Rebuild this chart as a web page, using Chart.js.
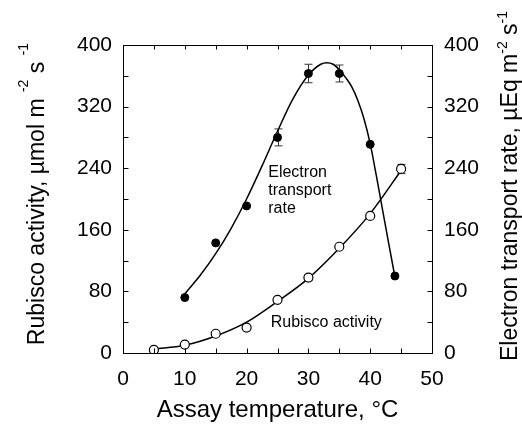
<!DOCTYPE html>
<html>
<head>
<meta charset="utf-8">
<script src="https://cdn.jsdelivr.net/npm/chart.js@4.4.0/dist/chart.umd.min.js"></script>
<style>
  html, body { margin: 0; padding: 0; background: #fff; }
</style>
</head>
<body>
<canvas id="chart" width="522" height="425"></canvas>
<script>
// measured points
const etTemp  = [10, 15, 20, 25, 30, 35, 40, 44];
const etRate  = [72, 143, 191, 280, 363, 363, 271, 100];
const etErr   = [0, 0, 0, 11, 12, 11, 0, 0];
const rubTemp = [5, 10, 15, 20, 25, 30, 35, 40, 45];
const rubAct  = [4, 11, 25, 33, 69, 98, 138, 178, 239];
const rubErr  = [0, 0, 0, 0, 0, 4, 0, 0, 6];

// fitted curves
const etFitTemp  = [10, 12.5, 15, 17.5, 20, 22.5, 25, 27.5, 30, 32, 33, 34, 35, 36, 37, 38, 39, 40, 41, 42, 43, 44];
const etFit      = [77, 101, 129, 162, 200, 243, 288, 330, 361, 375, 377, 375, 368, 358, 346, 328, 304, 272, 230, 186, 142, 99];
const rubFitTemp = [5, 10, 15, 20, 25, 30, 35, 40, 45];
const rubFit     = [5, 10, 22, 40, 67, 97, 136, 181, 237];

const xTicks = [0, 10, 20, 30, 40, 50];
const yTicks = [0, 80, 160, 240, 320, 400];

const FONT = '"Liberation Sans", Arial, Helvetica, sans-serif';
const pts = (xs, ys) => xs.map((x, i) => ({ x, y: ys[i] }));

const decor = {
  id: 'decor',
  beforeDatasetsDraw(chart) {
    const ctx = chart.ctx, x = chart.scales.x;
    ctx.save();
    ctx.strokeStyle = '#333';
    ctx.lineWidth = 1;
    const bars = (xs, ys, es, sc) => xs.forEach((t, i) => {
      if (!es[i]) return;
      const px = Math.round(x.getPixelForValue(t)) + 0.5;
      const top = sc.getPixelForValue(ys[i] + es[i]);
      const bot = sc.getPixelForValue(ys[i] - es[i]);
      ctx.beginPath();
      ctx.moveTo(px, top); ctx.lineTo(px, bot);
      ctx.moveTo(px - 4, top); ctx.lineTo(px + 4, top);
      ctx.moveTo(px - 4, bot); ctx.lineTo(px + 4, bot);
      ctx.stroke();
    });
    bars(etTemp, etRate, etErr, chart.scales.y2);
    bars(rubTemp, rubAct, rubErr, chart.scales.y);
    ctx.restore();
  },
  afterDraw(chart) {
    const ctx = chart.ctx, a = chart.chartArea;
    const x = chart.scales.x, y = chart.scales.y;
    ctx.save();
    ctx.strokeStyle = '#000';
    ctx.lineWidth = 1;
    const L = Math.round(a.left) + 0.5, R = Math.round(a.right) + 0.5;
    const T = Math.round(a.top) + 0.5, B = Math.round(a.bottom) + 0.5;
    ctx.strokeRect(L, T, R - L, B - T);
    ctx.beginPath();
    for (let t = 5; t < 50; t += 5) {
      const px = Math.round(x.getPixelForValue(t)) + 0.5;
      ctx.moveTo(px, B); ctx.lineTo(px, B - 5);
      ctx.moveTo(px, T); ctx.lineTo(px, T + 4);
    }
    for (let v = 40; v < 400; v += 40) {
      const py = Math.round(y.getPixelForValue(v)) + 0.5;
      ctx.moveTo(L, py); ctx.lineTo(L + 5, py);
      ctx.moveTo(R, py); ctx.lineTo(R - 5, py);
    }
    ctx.stroke();

    // in-plot labels
    ctx.fillStyle = '#000';
    ctx.font = '16px ' + FONT;
    ctx.textBaseline = 'alphabetic';
    const lx = x.getPixelForValue(23.5);
    ctx.fillText('Electron', lx, y.getPixelForValue(229));
    ctx.fillText('transport', lx, y.getPixelForValue(205));
    ctx.fillText('rate', lx, y.getPixelForValue(182));
    ctx.fillText('Rubisco activity', x.getPixelForValue(23.9), y.getPixelForValue(34));

    // y axis titles with superscripts
    const vTitle = (cx, cy, parts, size, raise) => {
      ctx.save();
      ctx.translate(cx, cy);
      ctx.rotate(-Math.PI / 2);
      let total = 0;
      parts.forEach(p => {
        ctx.font = (p.sup ? Math.round(size * 0.6) : size) + 'px ' + FONT;
        p.w = ctx.measureText(p.t).width;
        total += p.w;
      });
      let px = -total / 2;
      parts.forEach(p => {
        ctx.font = (p.sup ? Math.round(size * 0.6) : size) + 'px ' + FONT;
        ctx.fillText(p.t, px, p.sup ? -size * raise : 0);
        px += p.w;
      });
      ctx.restore();
    };
    vTitle(44, 194, [
      { t: 'Rubisco activity, µmol m ' }, { t: '-2', sup: true },
      { t: ' s ' }, { t: '-1', sup: true }
    ], 23, 0.7);
    vTitle(517, 186, [
      { t: 'Electron transport rate, µEq m' }, { t: '-2', sup: true },
      { t: ' s' }, { t: '-1', sup: true }
    ], 23, 0.45);
    ctx.restore();
  }
};

new Chart(document.getElementById('chart'), {
  type: 'scatter',
  data: {
    datasets: [
      {
        label: 'Electron transport rate',
        data: pts(etTemp, etRate),
        yAxisID: 'y2',
        pointRadius: 4,
        pointBackgroundColor: '#000',
        pointBorderColor: '#000',
        pointBorderWidth: 1,
        showLine: false,
        order: 0
      },
      {
        label: 'Rubisco activity',
        data: pts(rubTemp, rubAct),
        yAxisID: 'y',
        pointRadius: 4.5,
        pointBackgroundColor: '#fff',
        pointBorderColor: '#000',
        pointBorderWidth: 1.2,
        showLine: false,
        order: 0
      },
      {
        label: 'Electron transport fit',
        data: pts(etFitTemp, etFit),
        yAxisID: 'y2',
        showLine: true,
        pointRadius: 0,
        borderColor: '#000',
        borderWidth: 1.5,
        cubicInterpolationMode: 'monotone',
        order: 1
      },
      {
        label: 'Rubisco fit',
        data: pts(rubFitTemp, rubFit),
        yAxisID: 'y',
        showLine: true,
        pointRadius: 0,
        borderColor: '#000',
        borderWidth: 1.5,
        cubicInterpolationMode: 'monotone',
        order: 1
      }
    ]
  },
  options: {
    responsive: false,
    animation: false,
    events: [],
    layout: { padding: { top: 45, left: 0, right: 0, bottom: 0 } },
    plugins: { legend: { display: false }, tooltip: { enabled: false } },
    scales: {
      x: {
        type: 'linear', min: 0, max: 50,
        afterBuildTicks: s => { s.ticks = xTicks.map(v => ({ value: v })); },
        ticks: { color: '#000', font: { family: FONT, size: 21 }, padding: 14, maxRotation: 0 },
        grid: { display: false, drawTicks: false },
        border: { display: false },
        title: { display: true, text: 'Assay temperature, °C', color: '#000', font: { family: FONT, size: 24 }, padding: { top: 3, bottom: 0 } },
        afterFit: s => { s.height = 72; }
      },
      y: {
        type: 'linear', position: 'left', min: 0, max: 400,
        afterBuildTicks: s => { s.ticks = yTicks.map(v => ({ value: v })); },
        ticks: { color: '#000', font: { family: FONT, size: 21 }, padding: 11 },
        grid: { display: false, drawTicks: false },
        border: { display: false },
        afterFit: s => { s.width = 123; }
      },
      y2: {
        type: 'linear', position: 'right', min: 0, max: 400,
        afterBuildTicks: s => { s.ticks = yTicks.map(v => ({ value: v })); },
        ticks: { color: '#000', font: { family: FONT, size: 21 }, padding: 12 },
        grid: { display: false, drawTicks: false },
        border: { display: false },
        afterFit: s => { s.width = 90; }
      }
    }
  },
  plugins: [decor]
});
</script>
</body>
</html>
